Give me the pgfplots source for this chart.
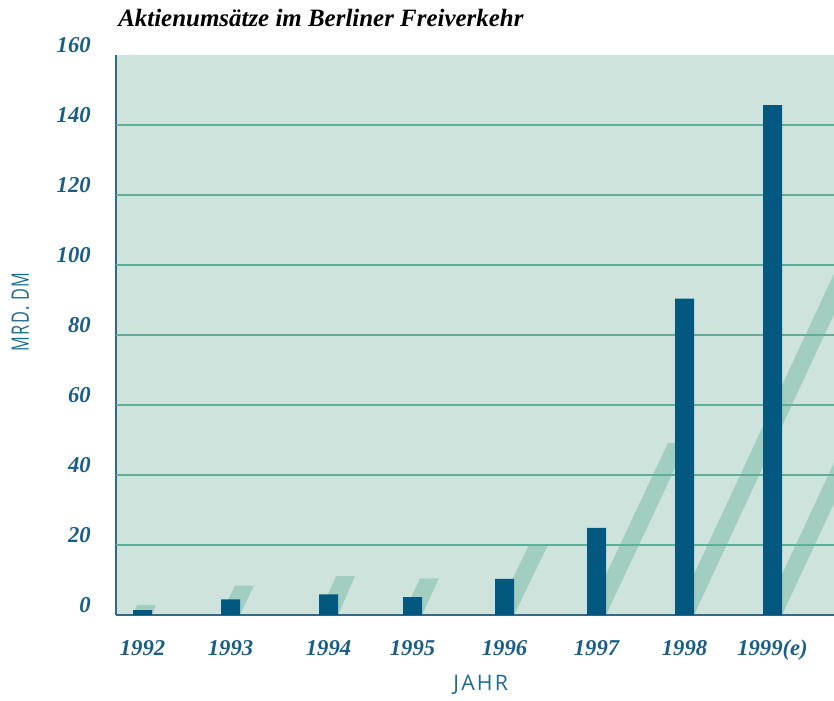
\documentclass[border=0pt]{standalone}
\usepackage{fontspec}
\setmainfont{Liberation Serif}
\newfontfamily\labelfont[LetterSpace=10]{Open Sans}
\usepackage{pgfplots}
\pgfplotsset{compat=1.18}
\definecolor{bgc}{HTML}{CFE3DD}
\definecolor{gridc}{HTML}{5FAF98}
\definecolor{barc}{HTML}{03587F}
\definecolor{tickc}{HTML}{1A5E86}
\definecolor{axisc}{HTML}{2A6B8F}
\definecolor{labc}{HTML}{1F6A8F}
\begin{document}
\begin{tikzpicture}[x=0.75pt,y=0.75pt]
\useasboundingbox (0,0) rectangle (834,700);
\begin{axis}[
  at={(87pt,63.75pt)}, anchor=south west,
  scale only axis, width=538.5pt, height=420pt,
  xmin=116, xmax=834, ymin=0, ymax=160,
  axis background/.style={fill=bgc},
  separate axis lines,
  axis x line*=bottom, axis y line*=left,
  axis line style={-, draw=axisc, line width=1.5pt},
  tick style={draw=none}, major tick length=0pt,
  /pgf/number format/assume math mode=true,
  ytick={0,20,...,160},
  extra y ticks={20,40,...,140},
  extra y tick labels={},
  extra y tick style={grid=major, grid style={draw=gridc, line width=1.1pt}},
  yticklabel style={font=\fontsize{17}{17}\selectfont\bfseries\itshape, text=tickc, anchor=east, inner sep=0pt, xshift=-18.75pt, yshift=7.5pt},
  xtick={142.5,230.5,328.5,412.5,504.5,596.5,684.5,772.5},
  xticklabels={1992,1993,1994,1995,1996,1997,1998,1999(e)},
  xticklabel style={font=\fontsize{17}{17}\selectfont\bfseries\itshape, text=tickc, anchor=base, inner sep=0pt, yshift=-30pt},
  clip=true, clip mode=individual,
]
% decorative shadows
\addplot[fill=gridc, fill opacity=0.4, draw=none] coordinates {(133,0)(152,0)(156,2.9)(137,2.9)} --cycle;
\addplot[fill=gridc, fill opacity=0.4, draw=none] coordinates {(221,0)(240,0)(254,8.4)(235,8.4)} --cycle;
\addplot[fill=gridc, fill opacity=0.4, draw=none] coordinates {(319,0)(338,0)(355,11.1)(336,11.1)} --cycle;
\addplot[fill=gridc, fill opacity=0.4, draw=none] coordinates {(403,0)(422,0)(439,10.5)(420,10.5)} --cycle;
\addplot[fill=gridc, fill opacity=0.4, draw=none] coordinates {(495,0)(514,0)(548,20)(529,20)} --cycle;
\addplot[fill=gridc, fill opacity=0.4, draw=none] coordinates {(587,0)(606,0)(687,49.2)(668,49.2)} --cycle;
\addplot[fill=gridc, fill opacity=0.4, draw=none] coordinates {(675,0)(694,0)(889.6,120)(870.6,120)} --cycle;
\addplot[fill=gridc, fill opacity=0.4, draw=none] coordinates {(763,0)(782,0)(880,60)(861,60)} --cycle;
% bars
\addplot[ybar, bar width=19, fill=barc, draw=none] coordinates {
  (142.5,1.4) (230.5,4.5) (328.5,5.9) (412.5,5.1)
  (504.5,10.3) (596.5,24.9) (684.5,90.4) (772.5,145.7)};
\node[anchor=base west, font=\fontsize{18.7}{18.7}\selectfont\bfseries\itshape, inner sep=0pt] at (rel axis cs:0.0028,1.05) {Aktienumsätze im Berliner Freiverkehr};
\node[font=\labelfont\fontsize{16}{16}\selectfont, text=labc] at (rel axis cs:0.508,-0.125) {JAHR};
\node[font=\labelfont\fontsize{18}{18}\selectfont, text=labc, rotate=90] at (rel axis cs:-0.133,0.541) {\scalebox{0.68}[1]{MRD.\hspace{0.35em}DM}};
\end{axis}
\end{tikzpicture}
\end{document}
